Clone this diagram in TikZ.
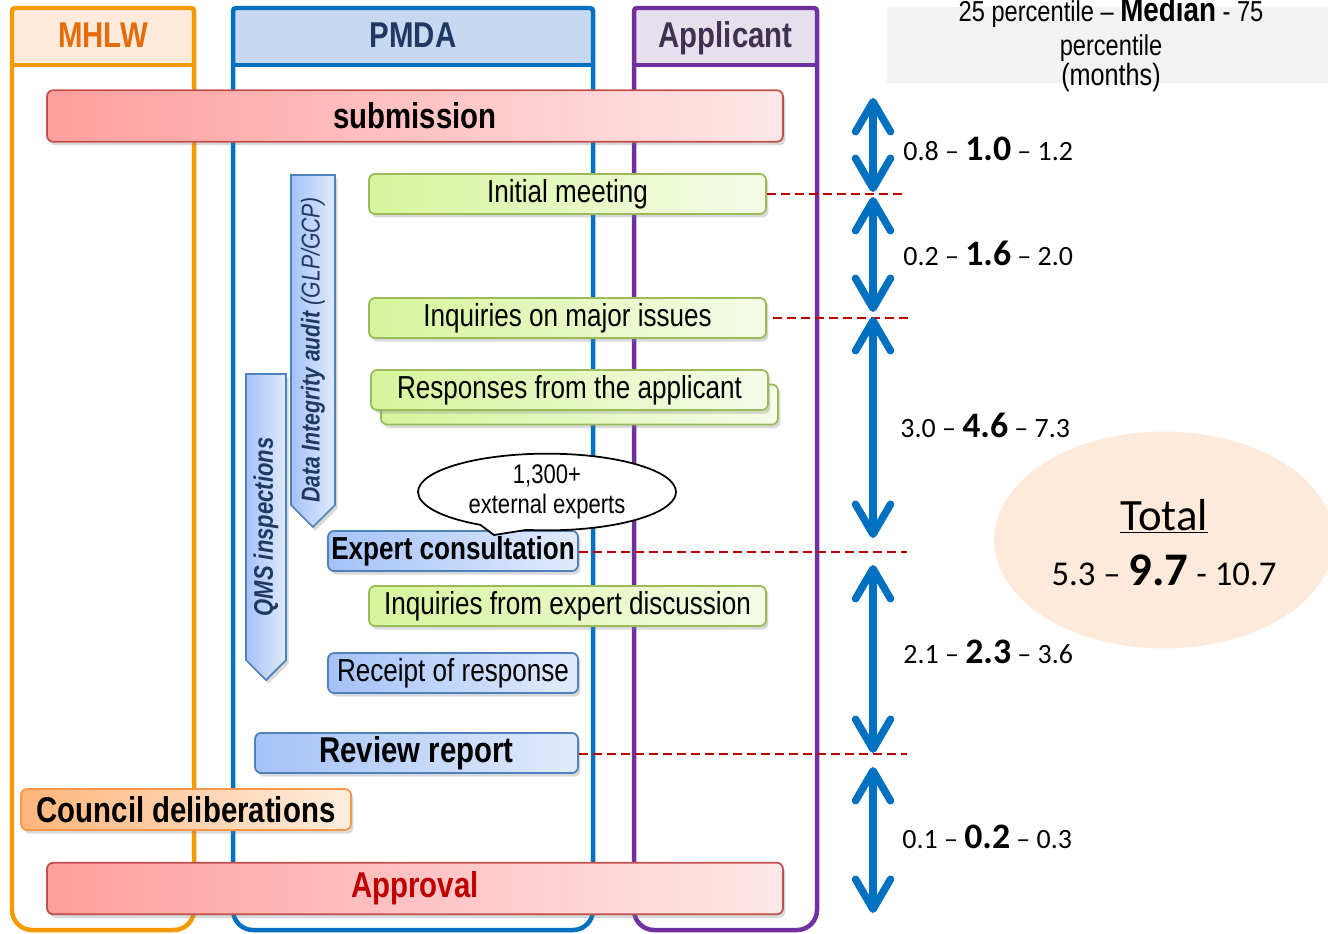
\documentclass[tikz,border=0pt]{standalone}
\usepackage{fontspec}
\setmainfont{Liberation Sans}
\newfontfamily\narrowfont[FakeStretch=0.82]{Liberation Sans}
\newfontfamily\calfont{Carlito}
\usetikzlibrary{positioning,shapes.geometric,shapes.callouts,shadows,arrows.meta}

\definecolor{mhlwline}{HTML}{F59A00}
\definecolor{mhlwfill}{HTML}{FDEADA}
\definecolor{mhlwtext}{HTML}{E46C0A}
\definecolor{pmdaline}{HTML}{0070C0}
\definecolor{pmdafill}{HTML}{C6D9F1}
\definecolor{pmdatext}{HTML}{1F3864}
\definecolor{appline}{HTML}{7030A0}
\definecolor{appfill}{HTML}{E6E0EC}
\definecolor{apptext}{HTML}{403152}
\definecolor{redline}{HTML}{C0504D}
\definecolor{redL}{HTML}{FF9E9E}
\definecolor{redR}{HTML}{FFE8E8}
\definecolor{greenline}{HTML}{9BBB59}
\definecolor{greenL}{HTML}{D6F59B}
\definecolor{greenR}{HTML}{F5FBE8}
\definecolor{blueline}{HTML}{4F81BD}
\definecolor{blueL}{HTML}{A4C2F8}
\definecolor{blueR}{HTML}{E1EBFC}
\definecolor{orangeline}{HTML}{F79646}
\definecolor{orangeL}{HTML}{FFB57A}
\definecolor{orangeR}{HTML}{FFEDDE}
\definecolor{navytext}{HTML}{1F3864}
\definecolor{approvaltext}{HTML}{C00000}
\definecolor{dashred}{HTML}{C00000}
\definecolor{arrowblue}{HTML}{0070C0}
\definecolor{headgray}{HTML}{F2F2F2}
\definecolor{totalfill}{HTML}{FDEADA}

% 25 - median - 75 percentile label
\newcommand{\dur}[3]{#1 – \textbf{\fontsize{20.4pt}{22pt}\selectfont #2} – #3}

\begin{document}
\begin{tikzpicture}[x=0.02cm, y=-0.02cm,
    frame/.style={line width=0.09cm},
    headtext/.style={anchor=base, inner sep=0pt, font=\narrowfont\bfseries\fontsize{20.4pt}{22pt}\selectfont},
    stepbox/.style={draw, rounded corners=0.12cm, line width=0.035cm, inner sep=0pt, minimum height=0.8cm,
        drop shadow={shadow xshift=0.05cm, shadow yshift=-0.07cm, opacity=0.3}},
    greenbox/.style={stepbox, draw=greenline, left color=greenL, right color=greenR, minimum width=7.94cm,
        font=\narrowfont\fontsize{18.1pt}{20pt}\selectfont},
    bluebox/.style={stepbox, draw=blueline, left color=blueL, right color=blueR, minimum width=5cm,
        font=\narrowfont\fontsize{18.1pt}{20pt}\selectfont},
    redbar/.style={stepbox, draw=redline, left color=redL, right color=redR, minimum width=14.72cm,
        minimum height=1.03cm, font=\narrowfont\bfseries\fontsize{20.4pt}{22pt}\selectfont},
    auditbar/.style={draw=blueline, line width=0.035cm, left color=blueL, right color=blueR,
        drop shadow={shadow xshift=0.05cm, shadow yshift=-0.07cm, opacity=0.3}},
    audittext/.style={rotate=90, text=navytext, font=\narrowfont\bfseries\itshape\fontsize{14.7pt}{16pt}\selectfont},
    gapline/.style={dashred, line width=0.035cm, dash pattern=on 0.18cm off 0.1cm},
    durarrow/.style={arrowblue, line width=0.15cm, >={Straight Barb[length=0.6cm,width=0.7cm,round]}, <->},
    durlabel/.style={anchor=base west, inner sep=0pt, font=\calfont\fontsize{15.9pt}{18pt}\selectfont},
]
\useasboundingbox (0,0) rectangle (1328,933);

% Swim lanes
\foreach \xl/\xr/\nm/\lbl in {12/194/mhlw/MHLW, 233/593/pmda/PMDA, 634/817/app/Applicant} {
    \fill[\nm fill] (\xl,8) rectangle (\xr,65);
    \draw[frame, \nm line] (\xl,8) [rounded corners=0.4cm] -- (\xl,930) -- (\xr,930)
        [rounded corners=0.06cm] -- (\xr,8) -- cycle;
    \draw[frame, \nm line] (\xl,65) -- (\xr,65);
    \node[headtext, text=\nm text] (\nm) at ({(\xl+\xr)/2},47) {\lbl};
}

% Inspections running in parallel
\draw[auditbar] (291,175) -- (335,175) -- (335,505) -- (313,527) -- (291,505) -- cycle;
\node[audittext] (gxp) at (313,350) {Data Integrity audit {\mdseries\itshape(GLP/GCP)}};
\draw[auditbar] (246,374) -- (286,374) -- (286,660) -- (266,680) -- (246,660) -- cycle;
\node[audittext, font=\narrowfont\bfseries\itshape\fontsize{15.3pt}{16pt}\selectfont] (qms) at (266,527) {QMS inspections};

% Review steps
\node[redbar] (submit) at (415,116) {submission};
\node[greenbox] (initmeet) at (567.5,194) {Initial meeting};
\node[greenbox] (inqmajor) at (567.5,318) {Inquiries on major issues};
\node[greenbox] (respback) at (579.5,404.5) {};
\node[greenbox] (resp) at (569.5,390) {Responses from the applicant};
\node[bluebox, font=\narrowfont\bfseries\fontsize{18.1pt}{20pt}\selectfont] (expcons) at (453,551) {Expert consultation};
\node[greenbox] (inqexp) at (567.5,606) {Inquiries from expert discussion};
\node[bluebox] (receipt) at (453,673) {Receipt of response};
\node[bluebox, minimum width=6.46cm, font=\narrowfont\bfseries\fontsize{20.4pt}{22pt}\selectfont] (review) at (416.5,753) {Review report};
\node[stepbox, draw=orangeline, left color=orangeL, right color=orangeR, minimum width=6.6cm, minimum height=0.82cm,
    font=\narrowfont\bfseries\fontsize{20.4pt}{22pt}\selectfont] (council) at (186,809.5) {Council deliberations\hspace{0.1cm}};
\node[redbar, text=approvaltext] (approval) at (415,888.5) {Approval};

% Expert pool
\node[ellipse callout, draw, fill=white, line width=0.035cm, align=center, inner sep=0pt,
    minimum width=5.16cm, minimum height=1.32cm, callout absolute pointer={(494,535)}, callout pointer arc=22,
    font=\narrowfont\fontsize{15.3pt}{17pt}\selectfont] (experts) at (547,492) {1,300+\\external experts};

% Milestone guides
\coordinate (g1) at (905,194);
\coordinate (g2) at (910,318);
\coordinate (g3) at (907,552);
\coordinate (g4) at (907,754);
\draw[gapline] (initmeet.east) -- (g1);
\draw[gapline] ([xshift=0.12cm]inqmajor.east) -- (g2);
\draw[gapline] (expcons.east |- g3) -- (g3);
\draw[gapline] (review.east |- g4) -- (g4);

% Durations
\foreach \ya/\yb [count=\i] in {98/192, 197/312, 317/538, 565/753, 767/913} {
    \coordinate (top\i) at (873,\ya);
    \coordinate (bot\i) at (873,\yb);
    \draw[durarrow] (top\i) -- (bot\i);
}
\node[durlabel] (dur1) at (903,160) {\dur{0.8}{1.0}{1.2}};
\node[durlabel] (dur2) at (903,265) {\dur{0.2}{1.6}{2.0}};
\node[durlabel] (dur3) at (900,437) {\dur{3.0}{4.6}{7.3}};
\node[durlabel] (dur4) at (903,663) {\dur{2.1}{2.3}{3.6}};
\node[durlabel] (dur5) at (902,848) {\dur{0.1}{0.2}{0.3}};

% Legend
\fill[headgray] (887,7) rectangle (1328,83);
\node[anchor=base, inner sep=0pt, font=\narrowfont\fontsize{16.4pt}{18pt}\selectfont] (pct1) at (1111,21)
    {25 percentile – \textbf{\fontsize{19.3pt}{20pt}\selectfont Median} - 75};
\node[anchor=base, inner sep=0pt, font=\narrowfont\fontsize{16.4pt}{18pt}\selectfont] (pct2) at (1111,55) {percentile};
\node[anchor=base, inner sep=0pt, font=\narrowfont\fontsize{17.5pt}{18pt}\selectfont] (pct3) at (1111,85) {(months)};

% Total
\node[ellipse, fill=totalfill, minimum width=6.8cm, minimum height=4.34cm] (total) at (1164,540) {};
\node[anchor=base, inner sep=0pt, font=\calfont\fontsize{25.5pt}{28pt}\selectfont] (totalhead) at (1164,530) {\underline{Total}};
\node[anchor=base, inner sep=0pt, font=\calfont\fontsize{19.8pt}{22pt}\selectfont] (totalval) at (1164,585)
    {5.3 – \textbf{\fontsize{26.6pt}{28pt}\selectfont 9.7} - 10.7};
\end{tikzpicture}
\end{document}
